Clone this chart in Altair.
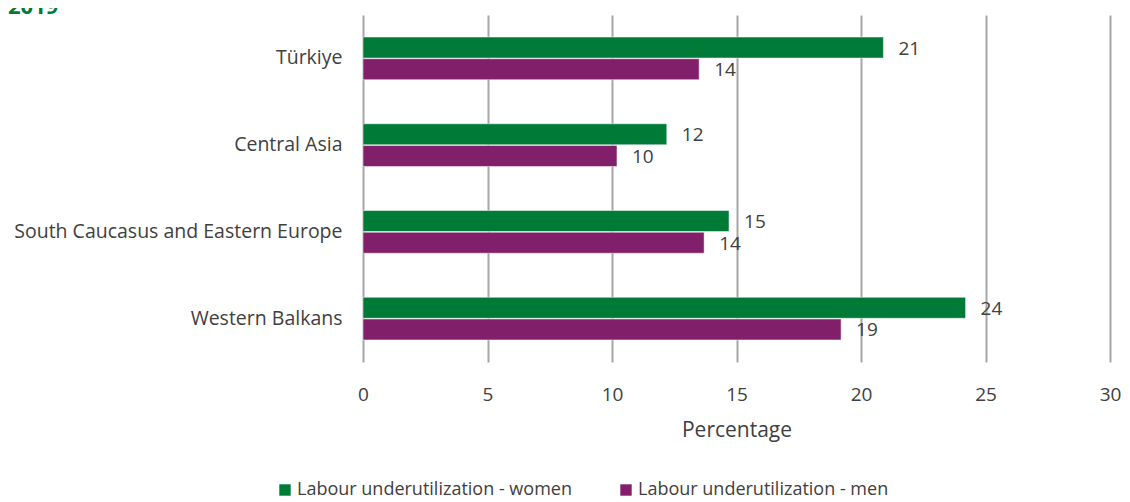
import altair as alt
import pandas as pd

regions = ["Türkiye", "Central Asia", "South Caucasus and Eastern Europe", "Western Balkans"]
women = [20.9, 12.2, 14.7, 24.2]
men = [13.5, 10.2, 13.7, 19.2]
series = ["Labour underutilization - women", "Labour underutilization - men"]
colors = ["#007A37", "#821F6B"]
x_ticks = [0, 5, 10, 15, 20, 25, 30]

rows = []
for r, w, m in zip(regions, women, men):
    rows.append({"region": r, "series": series[0], "value": w, "label": str(round(w))})
    rows.append({"region": r, "series": series[1], "value": m, "label": str(round(m))})
df = pd.DataFrame(rows)

FONT = "Open Sans"
TXT = "#404040"

y_enc = alt.Y("region:N", sort=regions,
              scale=alt.Scale(paddingInner=0.5, paddingOuter=0.25),
              axis=alt.Axis(title=None, labelFontSize=19.5, labelColor=TXT,
                            labelFont=FONT, ticks=False, domain=False,
                            labelPadding=21, labelLimit=400))
yoff = alt.YOffset("series:N", sort=series)
x_enc = alt.X("value:Q", scale=alt.Scale(domain=[0, 30], nice=False),
              axis=alt.Axis(values=x_ticks, title="Percentage", titleFontSize=21,
                            titleFont=FONT, titleColor=TXT, titleFontWeight="normal",
                            titlePadding=15, labelFlush=False, labelOverlap=False,
                            labelFontSize=19, labelColor=TXT, labelFont=FONT,
                            labelPadding=23, ticks=False, domain=False,
                            grid=True, gridColor="#A6A6A6", gridWidth=2))

color_enc = alt.Color("series:N", sort=series,
                      scale=alt.Scale(domain=series, range=colors),
                      legend=alt.Legend(title=None, orient="none", direction="horizontal",
                                        legendX=-87, legendY=466,
                                        symbolType="square", symbolSize=130,
                                        symbolStrokeWidth=0, symbolOpacity=1,
                                        labelFontSize=18, labelFont=FONT,
                                        labelColor=TXT, labelOffset=3,
                                        columnPadding=45, labelLimit=400))

bars = alt.Chart(df).mark_bar(size=21, stroke="white", strokeWidth=0.5).encode(
    y=y_enc, yOffset=yoff, x=x_enc, color=color_enc)

labels = alt.Chart(df).mark_text(align="left", baseline="middle", dx=15, dy=1,
                                 fontSize=19, font=FONT, color=TXT).encode(
    y=alt.Y("region:N", sort=regions), yOffset=yoff, x="value:Q", text="label:N")

title = alt.Chart(pd.DataFrame({"t": ["2019"]})).mark_text(
    align="left", baseline="alphabetic", fontSize=22, fontWeight="bold",
    font=FONT, color="#007A37").encode(
    x=alt.value(-355), y=alt.value(-1), text="t:N")

chart = alt.layer(bars, labels, title).properties(
    width=747, height=347,
    autosize=alt.AutoSizeParams(type="none"),
    padding={"left": 355, "top": 7, "right": 12, "bottom": 142},
).configure_view(stroke=None)

chart.save("out.html", embed_options={"renderer": "svg", "actions": False})
